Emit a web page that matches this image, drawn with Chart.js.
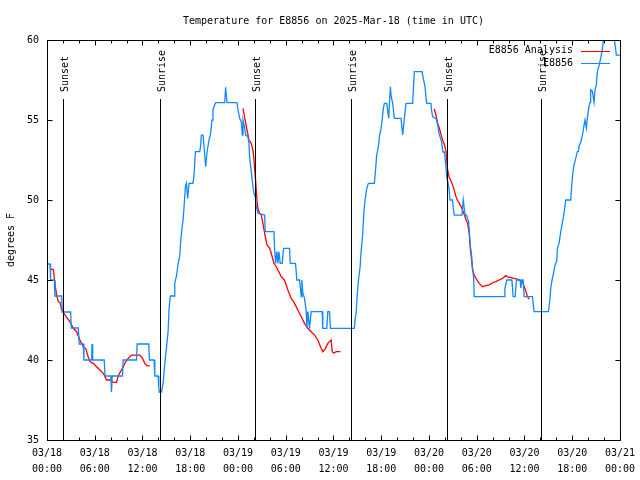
<!DOCTYPE html>
<html>
<head>
<meta charset="utf-8">
<script src="https://cdn.jsdelivr.net/npm/chart.js@4"></script>
<style>
html,body{margin:0;padding:0;background:#fff;}
#wrap{width:640px;height:480px;}
</style>
</head>
<body>
<div id="wrap"><canvas id="c" width="640" height="480"></canvas></div>
<script>
// ---- data (hours since 03/18 00:00 UTC, degrees F) ----
const titleText = "Temperature for E8856 on 2025-Mar-18 (time in UTC)";
const yAxisTitle = "degrees F";
const seriesNames = ["E8856 Analysis", "E8856"];

const xTickDates = ["03/18","03/18","03/18","03/18","03/19","03/19","03/19","03/19","03/20","03/20","03/20","03/20","03/21"];
const xTickTimes = ["00:00","06:00","12:00","18:00","00:00","06:00","12:00","18:00","00:00","06:00","12:00","18:00","00:00"];
const yTickLabels = ["35","40","45","50","55","60"];

const eventHours = [2.05, 14.22, 26.13, 38.15, 50.22, 62.13];
const eventLabels = ["Sunset","Sunrise","Sunset","Sunrise","Sunset","Sunrise"];

const stationReadings = [
[0,46],[0.38,46],[0.45,45],[0.92,45],[1.0,44],[1.84,44],[1.92,43],[2.97,43],[3.05,42],[3.93,42],
[4.05,41],[4.56,41],[4.64,40],[5.6,40],[5.66,41],[5.74,40],[7.19,40],[7.3,39],[8.03,39],[8.1,38],
[8.2,39],[9.49,39],[9.57,40],[11.25,40],[11.33,41],[12.79,41],[12.87,40],[13.46,40],[13.55,39],[13.96,39],
[14.05,38.3],[14.1,38],[14.4,38],[14.6,38.6],[14.75,39.5],[14.89,40.2],[15.01,40.75],[15.22,41.8],[15.34,43.2],[15.5,44],
[15.97,44],[16.06,44.8],[16.27,45.25],[16.47,46],[16.68,46.5],[16.81,47.5],[16.98,48.3],[17.1,48.75],[17.23,49.6],[17.39,50.83],
[17.52,51.04],[17.68,50.1],[17.85,51.04],[18.35,51.04],[18.48,51.56],[18.65,53.02],[19.19,53.02],[19.3,53.33],[19.4,54.06],[19.61,54.06],
[19.94,52.08],[20.11,53.0],[20.36,53.75],[20.53,54.06],[20.74,55.0],[20.86,55.63],[21.07,55.94],[21.2,56.08],[22.33,56.08],[22.45,57.04],
[22.62,56.08],[23.87,56.08],[24.0,55.63],[24.21,55.1],[24.42,54.9],[24.54,54.06],[24.63,55.0],[24.84,54.5],[24.96,54.06],[25.25,53.96],
[25.38,53.54],[25.46,52.7],[25.67,51.77],[25.88,50.83],[26.0,50.42],[26.18,50.2],[26.3,49.58],[26.51,49.17],[27.35,49.06],[27.43,48.02],
[28.52,48.02],[28.6,46.98],[28.73,46.04],[28.89,46.77],[29.02,46.04],[29.14,46.77],[29.31,46.04],[29.56,46.04],[29.73,46.98],[30.48,46.98],
[30.57,46.04],[31.23,46.04],[31.4,45.0],[31.74,45.0],[31.95,43.96],[32.03,45.0],[32.15,44.17],[32.36,43.85],[32.58,43.02],[32.66,41.98],
[32.78,43.02],[32.99,41.98],[33.2,43.02],[34.58,43.02],[34.66,41.98],[35.16,41.98],[35.29,43.02],[35.5,43.02],[35.62,41.98],[38.63,41.98],
[38.76,42.7],[38.85,42.92],[38.97,43.96],[39.14,45.0],[39.35,45.83],[39.47,46.77],[39.68,47.92],[39.81,49.17],[39.97,50.0],[40.18,50.73],
[40.39,51.04],[41.14,51.04],[41.27,51.77],[41.43,52.8],[41.65,53.33],[41.77,53.96],[41.98,54.48],[42.11,55.0],[42.27,55.73],[42.4,56.04],
[42.69,56.04],[42.94,55.1],[43.03,56.0],[43.15,57.08],[43.24,56.5],[43.44,56.04],[43.65,55.1],[44.49,55.1],[44.7,54.06],[44.91,55.1],
[45.12,56.04],[45.95,56.04],[46.16,58.02],[47.13,58.02],[47.29,57.6],[47.5,57.08],[47.71,56.04],[48.25,56.04],[48.33,55.6],[48.46,55.2],
[48.88,55.1],[49.09,54.69],[49.3,54.1],[49.6,53.6],[49.75,53.0],[49.95,53.0],[50.1,52.2],[50.25,51.4],[50.5,50.8],[50.65,50.0],
[50.95,50.0],[51.05,49.5],[51.18,49.06],[52.14,49.06],[52.31,50.0],[52.43,49.5],[52.56,49.06],[52.72,49.06],[52.85,48.85],[52.97,48.7],
[53.06,48.13],[53.19,47.19],[53.35,46.56],[53.48,45.73],[53.6,45.2],[53.69,43.96],[57.45,43.96],[57.54,44.48],[57.79,45.0],[58.42,45.0],
[58.58,43.96],[58.83,43.96],[58.99,45.0],[59.46,45.0],[59.55,44.5],[59.65,45.0],[59.83,45.0],[59.96,43.96],[61.0,43.96],[61.21,43.02],
[63.01,43.02],[63.18,43.7],[63.31,44.5],[63.43,44.9],[63.64,45.4],[63.85,45.94],[64.06,46.2],[64.14,46.98],[64.35,47.3],[64.56,48.02],
[64.77,48.6],[64.98,49.2],[65.19,50.0],[65.82,50.0],[65.94,50.94],[66.11,51.8],[66.23,52.19],[66.44,52.6],[66.65,53.02],[66.77,53.02],
[66.86,53.4],[67.07,53.6],[67.28,54.06],[67.4,54.4],[67.53,54.79],[67.61,55.0],[67.78,54.5],[67.9,55.1],[68.11,55.83],[68.24,56.1],
[68.32,56.88],[68.53,56.8],[68.74,56.1],[68.87,56.88],[69.03,57.2],[69.16,58.02],[69.37,58.4],[69.58,58.85],[69.78,59.4],[69.91,59.9],
[70.04,60.3],[70.6,60.8],[71.1,60.5],[71.26,60.1],[71.39,59.7],[71.55,59.06],[72,59.06]
];

const analysisNight1 = [
[0.46,45.67],[0.79,45.67],[0.92,45.1],[1.05,44.58],[1.21,44.06],[1.42,43.65],[1.63,43.6],[1.84,43.13],[2.13,42.92],[2.47,42.67],
[2.89,42.4],[3.3,41.98],[3.72,41.77],[4.14,41.25],[4.56,40.83],[4.89,40.7],[5.1,40.31],[5.39,39.9],[5.81,39.79],[6.23,39.58],
[6.65,39.38],[7.07,39.17],[7.49,38.75],[8.03,38.75],[8.32,38.6],[8.74,38.6],[8.95,39.0],[9.24,39.27],[9.49,39.48],[9.78,39.79],
[10.2,40.1],[10.62,40.31],[11.04,40.31],[11.67,40.31],[12.0,40.1],[12.29,39.79],[12.58,39.63],[12.92,39.65]
];
const analysisNight2 = [
[24.63,55.73],[25.05,54.58],[25.38,53.75],[25.67,53.54],[25.88,53.1],[26.0,52.6],[26.09,51.9],[26.22,51.2],[26.38,50.0],[26.51,49.48],
[26.72,49.17],[26.93,49.06],[27.13,48.54],[27.35,47.92],[27.64,47.19],[27.97,47.0],[28.18,46.67],[28.52,46.04],[28.81,45.83],[29.14,45.52],
[29.44,45.2],[29.85,45.0],[30.27,44.38],[30.69,43.85],[31.11,43.54],[31.52,43.13],[31.95,42.7],[32.36,42.29],[32.78,41.98],[33.2,41.77],
[33.62,41.56],[34.03,41.25],[34.37,40.83],[34.66,40.52],[35.0,40.73],[35.29,41.04],[35.71,41.25],[35.84,40.52],[36.04,40.42],[36.34,40.52],
[36.88,40.52]
];
const analysisNight3 = [
[48.67,55.69],[48.88,55.31],[49.09,54.79],[49.3,54.5],[49.51,54.1],[49.71,53.75],[49.92,53.5],[50.14,53.05],[50.26,52.3],[50.34,51.9],
[50.55,51.4],[50.76,51.2],[50.97,50.94],[51.18,50.6],[51.39,50.21],[51.6,49.95],[51.81,49.8],[52.02,49.6],[52.22,49.38],[52.43,49.1],
[52.64,48.8],[52.85,48.54],[53.06,47.92],[53.19,47.0],[53.35,46.3],[53.48,45.63],[53.69,45.31],[53.9,45.1],[54.1,44.95],[54.31,44.79],
[54.73,44.58],[55.15,44.65],[55.57,44.7],[55.99,44.83],[56.41,44.9],[56.82,45.0],[57.24,45.1],[57.66,45.27],[57.87,45.2],[58.29,45.15],
[58.7,45.1],[59.12,45.05],[59.55,44.95],[59.75,44.9],[59.96,44.6],[60.17,44.3],[60.38,43.96],[60.59,43.8]
];

// ---- build ----
const FONT = "'DejaVu Sans Mono', 'Liberation Mono', monospace";
const toPts = arr => arr.map(p => ({x: p[0], y: p[1]}));
const gap = h => ({x: h, y: null});
const analysisPts = [].concat(
  toPts(analysisNight1), [gap(18)],
  toPts(analysisNight2), [gap(42)],
  toPts(analysisNight3)
);
const stationPts = toPts(stationReadings);
const RED = '#ff0000', BLUE = '#1188ff';

const gnuFrame = {
  id: 'gnuFrame',
  beforeDraw(chart) {
    const ctx = chart.ctx;
    ctx.save();
    ctx.fillStyle = '#fff';
    ctx.fillRect(0, 0, chart.width, chart.height);
    ctx.restore();
  },
  afterDatasetsDraw(chart) {
    const {ctx, chartArea: a, scales} = chart;
    const xs = scales.x, ys = scales.y;
    ctx.save();
    ctx.strokeStyle = '#000';
    ctx.fillStyle = '#000';
    ctx.lineWidth = 1;
    ctx.font = '10px ' + FONT;
    // sunrise / sunset markers
    eventHours.forEach((h, i) => {
      const px = Math.round(xs.getPixelForValue(h)) + 0.5;
      ctx.beginPath();
      ctx.moveTo(px, a.bottom);
      ctx.lineTo(px, 99);
      ctx.stroke();
      ctx.save();
      ctx.translate(px + 4.5, 92);
      ctx.rotate(-Math.PI / 2);
      ctx.textAlign = 'left';
      ctx.textBaseline = 'alphabetic';
      ctx.fillText(eventLabels[i], 0, 0);
      ctx.restore();
    });
    // frame
    const L = a.left + 0.5, R = a.right + 0.5, T = a.top + 0.5, B = a.bottom + 0.5;
    ctx.strokeRect(L, T, R - L, B - T);
    // x tics (major every 6 h, minor every 2 h), drawn inward on bottom and top
    ctx.beginPath();
    for (let h = xs.min; h <= xs.max + 1e-9; h += 2) {
      const px = Math.round(xs.getPixelForValue(h)) + 0.5;
      const len = (Math.round(h) % 6 === 0) ? 5 : 3;
      ctx.moveTo(px, B); ctx.lineTo(px, B - len);
      ctx.moveTo(px, T); ctx.lineTo(px, T + len);
    }
    // y tics
    ys.ticks.forEach(t => {
      const py = Math.round(ys.getPixelForValue(t.value)) + 0.5;
      ctx.moveTo(L, py); ctx.lineTo(L + 5, py);
      ctx.moveTo(R, py); ctx.lineTo(R - 5, py);
    });
    ctx.stroke();
    // legend (gnuplot style: text right-aligned, sample line to the right)
    const ds = chart.data.datasets;
    [ds[0], ds[1]].forEach((d, i) => {
      const yy = 50.5 + i * 12.5;
      ctx.textAlign = 'right';
      ctx.textBaseline = 'middle';
      ctx.fillStyle = '#000';
      ctx.fillText(d.label, 573, yy);
      ctx.strokeStyle = d.borderColor;
      ctx.beginPath();
      ctx.moveTo(581, Math.round(yy) + 0.5);
      ctx.lineTo(610, Math.round(yy) + 0.5);
      ctx.stroke();
    });
    ctx.restore();
  }
};

new Chart(document.getElementById('c'), {
  type: 'line',
  data: {
    datasets: [
      {label: seriesNames[0], data: analysisPts, borderColor: RED, backgroundColor: RED,
       borderWidth: 1.3, pointRadius: 0, tension: 0, spanGaps: false, order: 2},
      {label: seriesNames[1], data: stationPts, borderColor: BLUE, backgroundColor: BLUE,
       borderWidth: 1.3, pointRadius: 0, tension: 0, order: 1}
    ]
  },
  options: {
    responsive: false,
    devicePixelRatio: 1,
    animation: false,
    events: [],
    layout: {padding: {left: 0, right: 19, top: 0, bottom: 0}},
    plugins: {
      legend: {display: false},
      tooltip: {enabled: false},
      title: {
        display: true, text: titleText, fullSize: false, color: '#000',
        font: {family: FONT, size: 10, weight: 'normal', lineHeight: 1.2},
        padding: {top: 15, bottom: 13}
      }
    },
    scales: {
      x: {
        type: 'linear', min: 0, max: 72,
        grid: {display: false, drawTicks: false}, border: {display: false},
        afterFit: s => { s.height = 40; },
        ticks: {
          stepSize: 6, autoSkip: false, maxRotation: 0, minRotation: 0,
          color: '#000', padding: 5,
          font: {family: FONT, size: 10, lineHeight: 1.6},
          callback: v => { const i = Math.round(v / 6); return [xTickDates[i], xTickTimes[i]]; }
        }
      },
      y: {
        type: 'linear', min: 35, max: 60,
        grid: {display: false, drawTicks: false}, border: {display: false},
        afterFit: s => { s.width = 47; },
        title: {display: true, text: yAxisTitle, color: '#000',
                font: {family: FONT, size: 10, lineHeight: 1.2}, padding: {top: 5, bottom: 0}},
        ticks: {
          stepSize: 5, color: '#000', padding: 8,
          font: {family: FONT, size: 10},
          callback: v => yTickLabels[Math.round((v - 35) / 5)]
        }
      }
    }
  },
  plugins: [gnuFrame]
});
</script>
</body>
</html>
